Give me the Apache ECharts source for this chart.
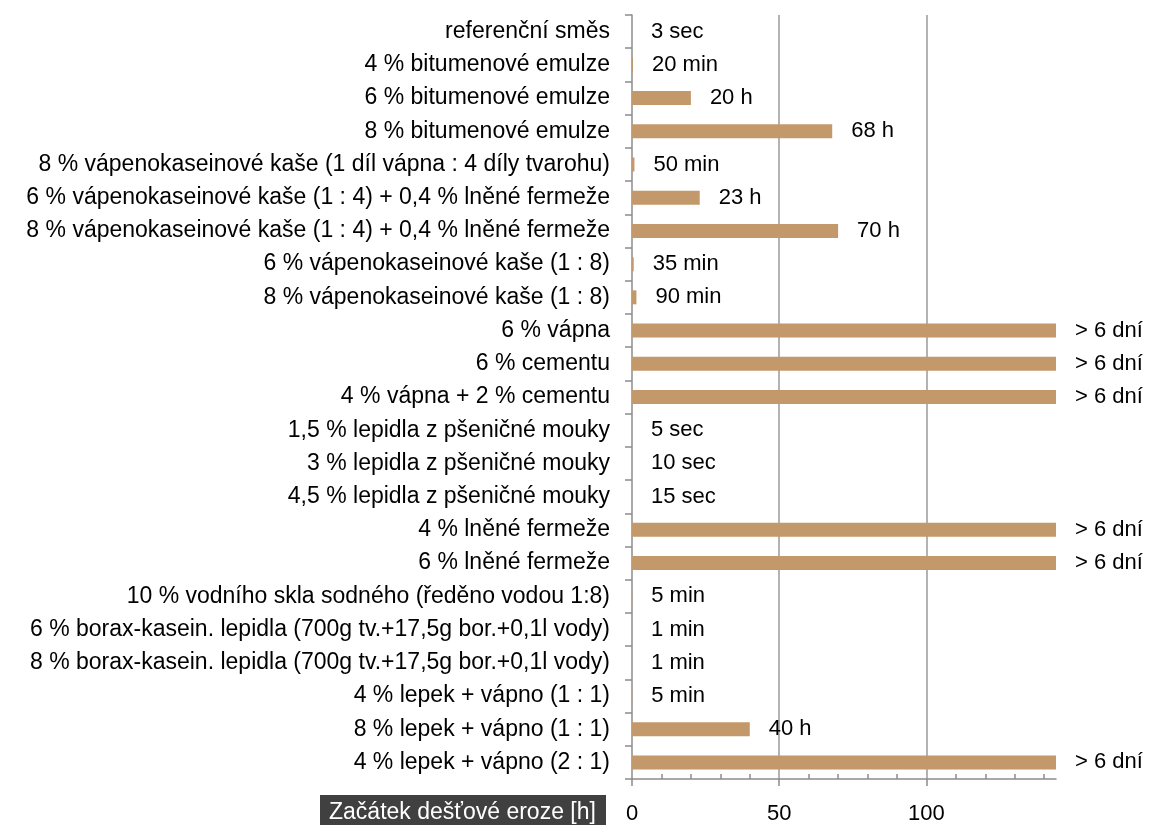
<!DOCTYPE html>
<html>
<head>
<meta charset="utf-8">
<script src="https://cdn.jsdelivr.net/npm/echarts@6/dist/echarts.min.js"></script>
<style>
html,body{margin:0;padding:0;background:#fff;}
#c{width:1154px;height:825px;}
</style>
</head>
<body>
<div id="c"></div>
<script>
const categories = [
  "referenční směs",
  "4 % bitumenové emulze",
  "6 % bitumenové emulze",
  "8 % bitumenové emulze",
  "8 % vápenokaseinové kaše (1 díl vápna : 4 díly tvarohu)",
  "6 % vápenokaseinové kaše (1 : 4) + 0,4 % lněné fermeže",
  "8 % vápenokaseinové kaše (1 : 4) + 0,4 % lněné fermeže",
  "6 % vápenokaseinové kaše (1 : 8)",
  "8 % vápenokaseinové kaše (1 : 8)",
  "6 % vápna",
  "6 % cementu",
  "4 % vápna + 2 % cementu",
  "1,5 % lepidla z pšeničné mouky",
  "3 % lepidla z pšeničné mouky",
  "4,5 % lepidla z pšeničné mouky",
  "4 % lněné fermeže",
  "6 % lněné fermeže",
  "10 % vodního skla sodného (ředěno vodou 1:8)",
  "6 % borax-kasein. lepidla (700g tv.+17,5g bor.+0,1l vody)",
  "8 % borax-kasein. lepidla (700g tv.+17,5g bor.+0,1l vody)",
  "4 % lepek + vápno (1 : 1)",
  "8 % lepek + vápno (1 : 1)",
  "4 % lepek + vápno (2 : 1)"
];
// hours until onset of rain erosion
const hours = [0.001, 0.33, 20, 68, 0.83, 23, 70, 0.58, 1.5, 144, 144, 144,
  0.0014, 0.0028, 0.0042, 144, 144, 0.083, 0.017, 0.017, 0.083, 40, 144];
const valueLabels = ["3 sec", "20 min", "20 h", "68 h", "50 min", "23 h", "70 h",
  "35 min", "90 min", "> 6 dní", "> 6 dní", "> 6 dní", "5 sec", "10 sec", "15 sec",
  "> 6 dní", "> 6 dní", "5 min", "1 min", "1 min", "5 min", "40 h", "> 6 dní"];
const xTicks = [0, 50, 100];
const xMinorTicks = [10, 20, 30, 40, 60, 70, 80, 90, 110, 120, 130, 140];
const axisTitle = "Začátek dešťové eroze [h]";

const FONT = "'Liberation Sans', Arial, sans-serif";
const AX = '#8c8c8c';
const chart = echarts.init(document.getElementById('c'), null, {renderer: 'canvas'});
chart.setOption({
  animation: false,
  backgroundColor: '#ffffff',
  grid: {left: 632, right: 98, top: 15, bottom: 46},
  xAxis: [{
    type: 'value', min: 0, max: 144, interval: 50, position: 'bottom',
    axisLine: {show: true, lineStyle: {color: AX, width: 1.5}},
    axisTick: {show: true, length: 7, inside: false, customValues: xTicks, lineStyle: {color: AX, width: 1.5}},
    axisLabel: {fontFamily: FONT, fontSize: 22, color: '#000', margin: 24, customValues: xTicks},
    splitLine: {show: true, showMinLine: false, showMaxLine: true, lineStyle: {color: '#9a9a9a', width: 1.5}}
  }, {
    type: 'value', min: 0, max: 144, interval: 10, position: 'bottom',
    axisLine: {show: false},
    axisTick: {show: true, length: 5, inside: true, customValues: xMinorTicks, lineStyle: {color: AX, width: 1.5}},
    axisLabel: {show: false},
    splitLine: {show: false}
  }],
  yAxis: {
    type: 'category', data: categories, inverse: true,
    axisLine: {show: true, lineStyle: {color: AX, width: 1.5}},
    axisTick: {show: true, length: 7, alignWithLabel: false, lineStyle: {color: AX, width: 1.5}},
    axisLabel: {fontFamily: FONT, fontSize: 23, color: '#000', margin: 22, interval: 0},
    splitLine: {show: false}
  },
  series: [{
    type: 'bar', xAxisIndex: 0, data: hours, barWidth: 14,
    itemStyle: {color: '#c3986a'},
    label: {show: true, position: 'right', distance: 19, fontFamily: FONT, fontSize: 22, color: '#000',
      formatter: function (p) { return valueLabels[p.dataIndex]; }}
  }],
  graphic: [{
    type: 'rect', shape: {x: 320, y: 795, width: 286, height: 40},
    style: {fill: '#404040'}
  }, {
    type: 'text', x: 329, y: 813,
    style: {text: axisTitle, fill: '#ffffff', font: "23px 'Liberation Sans', Arial, sans-serif",
      align: 'left', verticalAlign: 'middle'}
  }]
});
</script>
</body>
</html>
